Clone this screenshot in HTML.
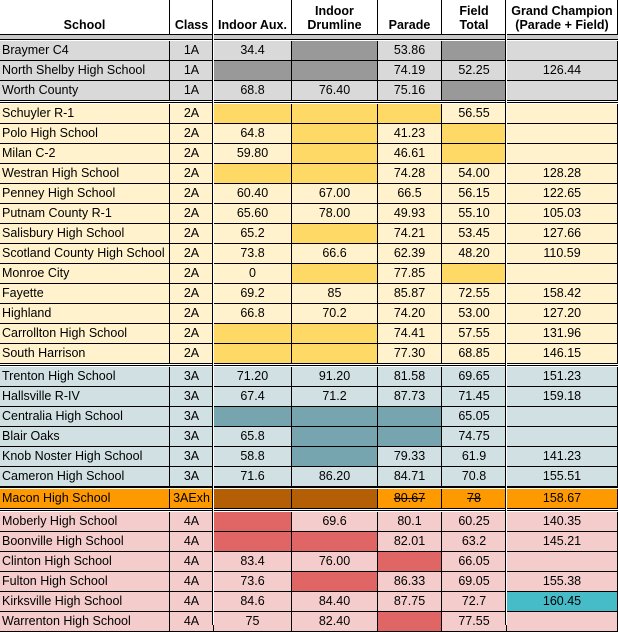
<!DOCTYPE html>
<html><head><meta charset="utf-8"><style>
body{margin:0;width:618px;height:625px;overflow:hidden;background:#fff;font-family:"Liberation Sans",Arial,sans-serif;font-size:12.5px;color:#000;position:relative}
.c{position:absolute;box-sizing:border-box;border-right:1px solid #000;border-bottom:1px solid #000;text-align:center;white-space:nowrap;overflow:hidden}
.h{font-weight:bold;display:flex;align-items:flex-end;justify-content:center;line-height:14px;padding-bottom:2px;text-align:center}
.l{text-align:left;padding-left:2px}
.s{text-decoration:line-through}
</style></head><body>
<div id="t"></div>
<script>
var X=[0,170,214,292,378,442,507,618];
var out=[];
function cell(x0,x1,y,h,bg,txt,cls){out.push('<div class="c '+(cls||'')+'" style="left:'+x0+'px;top:'+y+'px;width:'+(x1-x0)+'px;height:'+h+'px;line-height:'+(h-1)+'px;background:'+bg+'">'+txt+'</div>');}
var H=["School","Class","Indoor Aux.","Indoor<br>Drumline","Parade","Field<br>Total","Grand Champion<br>(Parade + Field)"];
for(var i=0;i<7;i++){out.push('<div class="c h" style="left:'+X[i]+'px;top:0;width:'+(X[i+1]-X[i])+'px;height:35px;background:#fff">'+H[i]+'</div>');}
out.push('<div style="position:absolute;left:0;top:35px;width:618px;height:6px;background:#c8c8c8"></div>');
var G=[
 {y:41,h:20,l:"#d9d9d9",d:"#999999",rows:[
  ["Braymer C4","1A","34.4","#","53.86","#",""],
  ["North Shelby High School","1A","#","#","74.19","52.25","126.44"],
  ["Worth County","1A","68.8","76.40","75.16","#",""]]},
 {y:104,h:20,l:"#fff2cc",d:"#ffd966",rows:[
  ["Schuyler R-1","2A","#","#","#","56.55",""],
  ["Polo High School","2A","64.8","#","41.23","#",""],
  ["Milan C-2","2A","59.80","#","46.61","#",""],
  ["Westran High School","2A","#","#","74.28","54.00","128.28"],
  ["Penney High School","2A","60.40","67.00","66.5","56.15","122.65"],
  ["Putnam County R-1","2A","65.60","78.00","49.93","55.10","105.03"],
  ["Salisbury High School","2A","65.2","#","74.21","53.45","127.66"],
  ["Scotland County High School","2A","73.8","66.6","62.39","48.20","110.59"],
  ["Monroe City","2A","0","#","77.85","#",""],
  ["Fayette","2A","69.2","85","85.87","72.55","158.42"],
  ["Highland","2A","66.8","70.2","74.20","53.00","127.20"],
  ["Carrollton High School","2A","#","#","74.41","57.55","131.96"],
  ["South Harrison","2A","#","#","77.30","68.85","146.15"]]},
 {y:367,h:20,l:"#d0e0e3",d:"#76a5af",rows:[
  ["Trenton High School","3A","71.20","91.20","81.58","69.65","151.23"],
  ["Hallsville R-IV","3A","67.4","71.2","87.73","71.45","159.18"],
  ["Centralia High School","3A","#","#","#","65.05",""],
  ["Blair Oaks","3A","65.8","#","#","74.75",""],
  ["Knob Noster High School","3A","58.8","#","79.33","61.9","141.23"],
  ["Cameron High School","3A","71.6","86.20","84.71","70.8","155.51"]]},
 {y:489,h:20,l:"#ff9900",d:"#b45f06",rows:[
  ["Macon High School","3AExh","#","#","~80.67","~78","158.67"]]},
 {y:512,h:20,l:"#f4cccc",d:"#e06666",rows:[
  ["Moberly High School","4A","#","69.6","80.1","60.25","140.35"],
  ["Boonville High School","4A","#","#","82.01","63.2","145.21"],
  ["Clinton High School","4A","83.4","76.00","#","66.05",""],
  ["Fulton High School","4A","73.6","#","86.33","69.05","155.38"],
  ["Kirksville High School","4A","84.6","84.40","87.75","72.7","!160.45"],
  ["Warrenton High School","4A","75","82.40","#","77.55",""]]}
];
G.forEach(function(g){
 out.push('<div style="position:absolute;left:0;top:'+(g.y-2)+'px;width:618px;height:2px;border-top:1px solid #000;box-sizing:border-box;background:#fff"></div>');
 g.rows.forEach(function(r,ri){
  var y=g.y+ri*g.h;
  for(var i=0;i<7;i++){
   var v=r[i],bg=g.l,cls=i==0?'l':'';
   if(v=="#"){bg=g.d;v="";}
   if(v.charAt(0)=="~"){v=v.slice(1);cls+=' s';}
   if(v.charAt(0)=="!"){v=v.slice(1);bg="#45bcc8";}
   cell(X[i],X[i+1],y,g.h,bg,v,cls);
  }
 });
});
[212,505].forEach(function(x){out.push('<div style="position:absolute;left:'+x+'px;top:0;width:2px;height:625px;background:#fff;border-left:1px solid #000;box-sizing:border-box"></div>');});
document.getElementById('t').innerHTML=out.join('');
</script>
</body></html>
